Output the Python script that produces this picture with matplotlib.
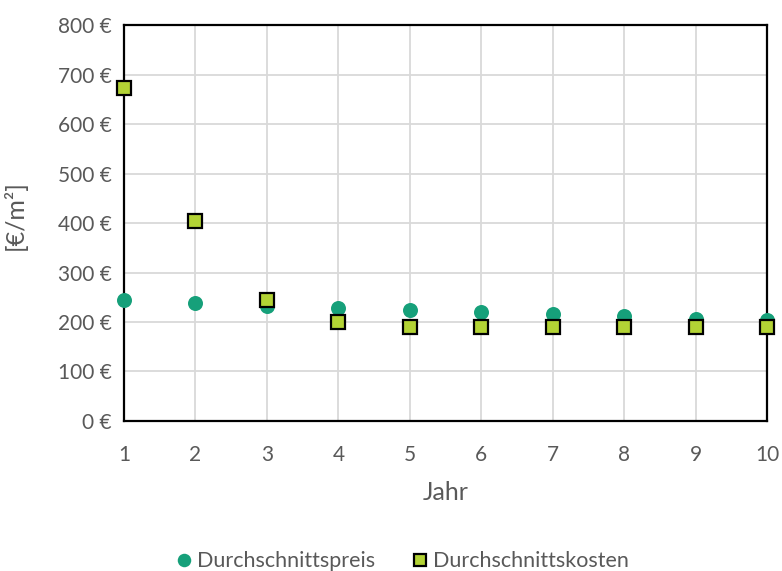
import matplotlib
matplotlib.use("Agg")
import matplotlib.pyplot as plt
from matplotlib.ticker import FuncFormatter

plt.rcParams['font.family'] = ['Lato', 'DejaVu Sans']

jahre = [1, 2, 3, 4, 5, 6, 7, 8, 9, 10]
durchschnittspreis = [244, 239, 233, 229, 224, 221, 217, 212, 207, 204]
durchschnittskosten = [673, 405, 244, 200, 190, 190, 190, 190, 190, 190]

text_grau = '#595959'

fig = plt.figure(figsize=(7.82, 5.71), dpi=100)
ax = fig.add_axes([0.1586, 0.2627, 0.8222, 0.6935])

ax.plot(jahre, durchschnittspreis, linestyle='none', marker='o', markersize=10.8,
        color='#16A07A', markeredgewidth=0, label='Durchschnittspreis',
        clip_on=False, zorder=3)
ax.plot(jahre, durchschnittskosten, linestyle='none', marker='s', markersize=9.5,
        markerfacecolor='#B3D335', markeredgecolor='black', markeredgewidth=1.6,
        label='Durchschnittskosten', clip_on=False, zorder=4)

ax.set_xlim(1, 10)
ax.set_ylim(0, 800)
ax.set_xticks(range(1, 11))
ax.set_yticks(range(0, 801, 100))
ax.yaxis.set_major_formatter(FuncFormatter(lambda v, p: f'{int(v)} €'))

ax.grid(True, color='#D9D9D9', linewidth=1.3, linestyle='-')
ax.set_axisbelow(True)
for s in ax.spines.values():
    s.set_color('black')
    s.set_linewidth(1.6)

ax.tick_params(axis='both', length=0, labelsize=15, colors=text_grau)
ax.tick_params(axis='x', pad=17)
ax.tick_params(axis='y', pad=9)

ax.set_xlabel('Jahr', fontsize=18, color=text_grau, labelpad=12)
ax.set_ylabel('[€/m²]', fontsize=18, color=text_grau)
ax.yaxis.set_label_coords(-0.152, 0.52)

leg = fig.legend(loc='center', bbox_to_anchor=(0.513, 0.017), ncol=2, frameon=False,
                 fontsize=15.5, handletextpad=0.1, columnspacing=1.6,
                 handlelength=1.0, markerscale=0.9)
for t in leg.get_texts():
    t.set_color(text_grau)

fig.savefig('out.png', dpi=100)
